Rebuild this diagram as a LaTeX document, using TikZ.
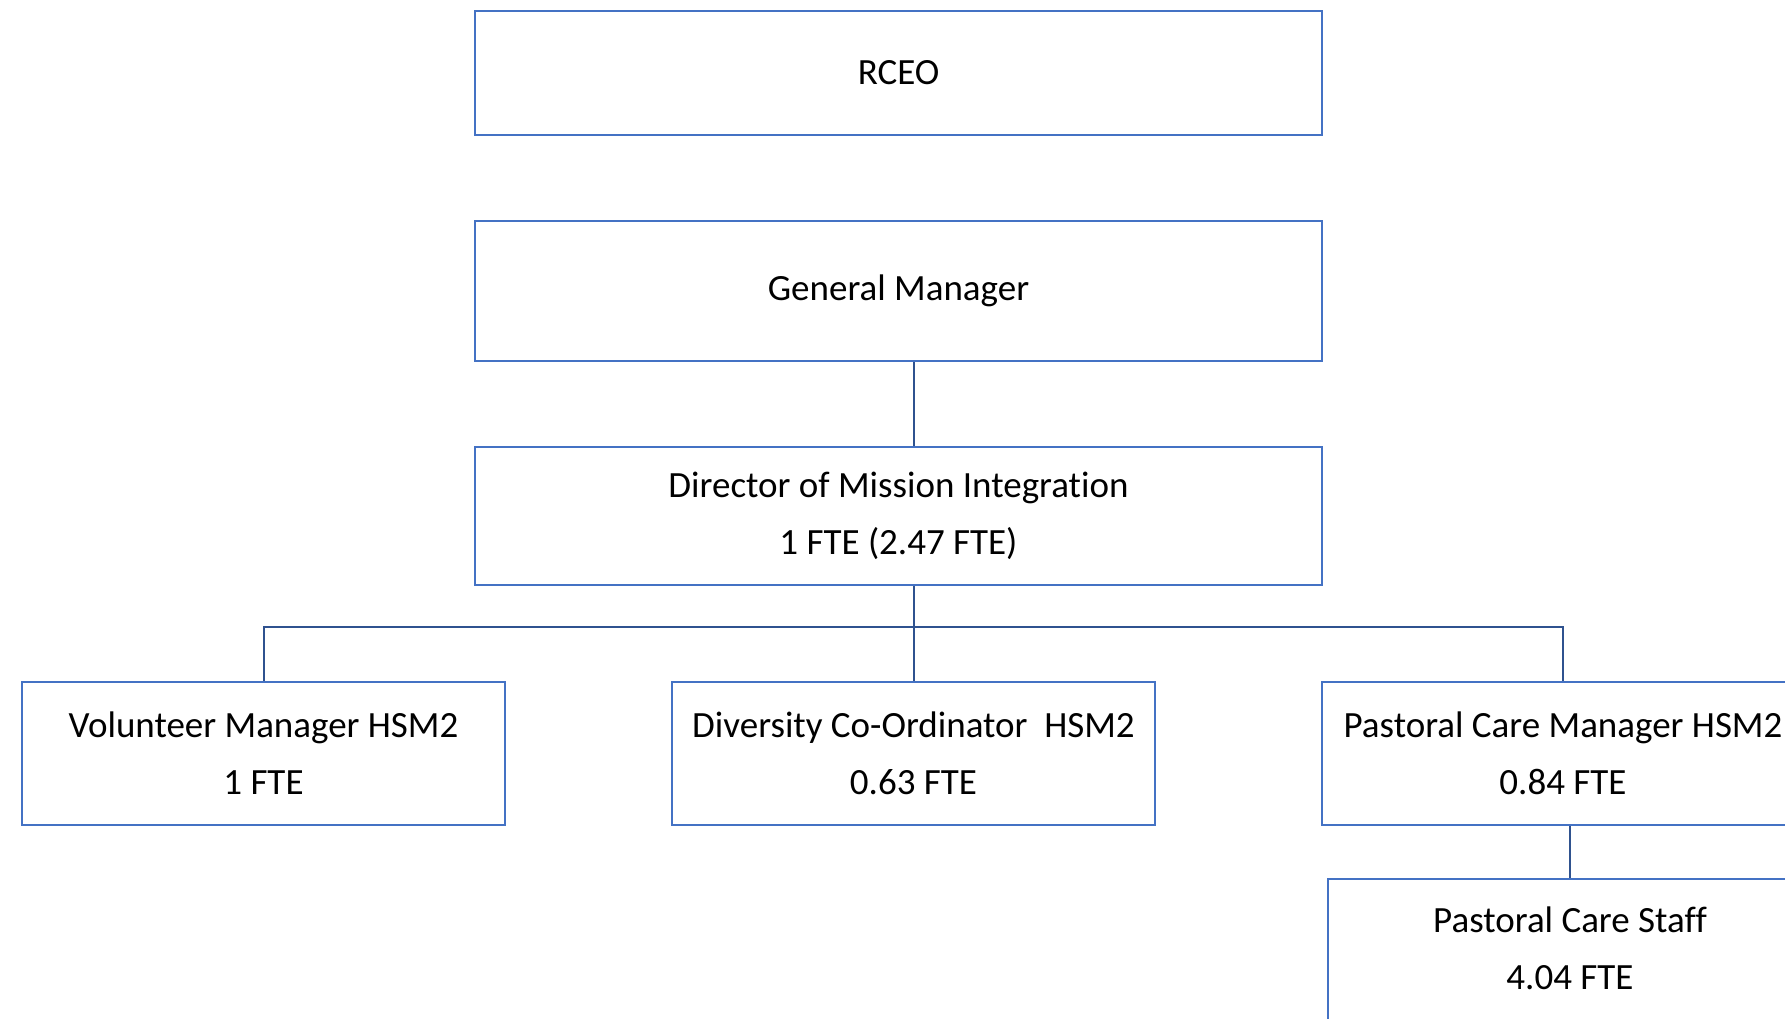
\documentclass[tikz,border=0pt]{standalone}
\usepackage{fontspec}
\setmainfont{Carlito}[Ligatures={NoCommon}]
\definecolor{boxblue}{HTML}{4472C4}
\definecolor{linkblue}{HTML}{2F528F}
\begin{document}
\begin{tikzpicture}[x=1pt,y=-1pt,
  orgbox/.style={draw=boxblue, line width=2.8pt, fill=white, rectangle, inner sep=0pt,
    align=center, font=\fontsize{37}{57}\selectfont},
  link/.style={draw=linkblue, line width=2pt}]
\useasboundingbox (0,0) rectangle (1785,1018);
\clip (0,0) rectangle (1785,1018);
\node[orgbox, minimum width=847pt, minimum height=124pt] (rceo) at (898.5,73) {RCEO};
\node[orgbox, minimum width=847pt, minimum height=140pt] (gm) at (898.5,291) {General Manager};
\node[orgbox, minimum width=847pt, minimum height=138pt] (dmi) at (898.5,516) {Director of Mission Integration\\1 FTE (2.47 FTE)};
\node[orgbox, minimum width=483pt, minimum height=143pt] (vol) at (263.5,753.5) {Volunteer Manager HSM2\\1 FTE};
\node[orgbox, minimum width=483pt, minimum height=143pt] (div) at (913.5,753.5) {Diversity Co-Ordinator\ \ HSM2\\0.63 FTE};
\node[orgbox, minimum width=482pt, minimum height=143pt] (pcm) at (1563,753.5) {Pastoral Care Manager HSM2\\0.84 FTE};
\node[orgbox, minimum width=484pt, minimum height=195pt] (staff) at (1570,976.5) {Pastoral Care Staff\\4.04 FTE\\\mbox{}};
\coordinate (bus) at (913.5,627);
\draw[link] (gm.south -| div) -- (dmi.north -| div);
\draw[link] (dmi.south -| div) -- (div.north);
\draw[link] (vol.north) |- (bus) -| (pcm.north);
\draw[link] (pcm.south -| staff) -- (staff.north);
\end{tikzpicture}
\end{document}
